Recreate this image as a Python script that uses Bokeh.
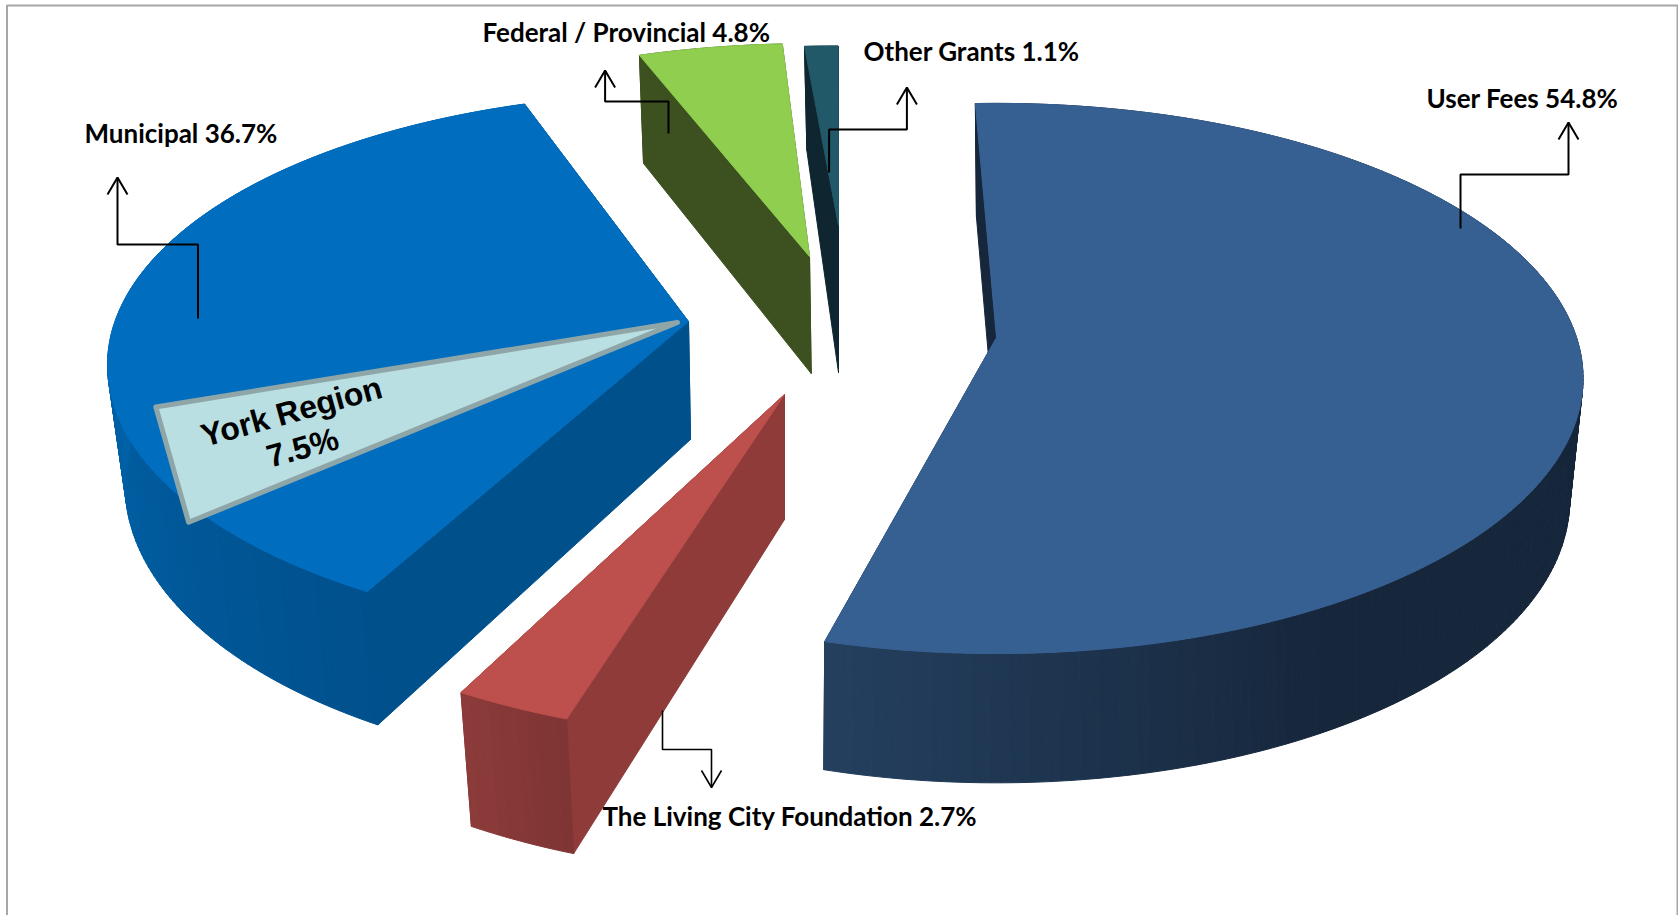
import numpy as np
from bokeh.plotting import figure
from bokeh.models import Range1d
from bokeh.embed import file_html
from bokeh.resources import INLINE
from bokeh.core.properties import value

# ---- data ----
categories = ["User Fees", "The Living City Foundation", "Municipal", "Federal / Provincial", "Other Grants"]
shares = [54.8, 2.7, 36.7, 4.8, 1.1]
york_label = "York Region"
york_share = 7.5
label_texts = ["User Fees 54.8%", "The Living City Foundation 2.7%", "Municipal 36.7%",
               "Federal / Provincial 4.8%", "Other Grants 1.1%"]

# ---- layout (page pixels) ----
W, H = 1678, 915
TOTAL = sum(shares)
# start angle, top face (apex x, y, a, b, k), bottom face (apex x, y, a, b, k)
geom = {
    "User Fees": (-2.4, (996, 337, 580, 269, .149), (996, 449, 564, 274, .178)),
    "The Living City Foundation": (198.0, (784, 394, 591, 286, .17), (784, 519, 572, 294.5, .17)),
    "Municipal": (208.8, (688, 321, 573.5, 265, .16), (690, 439, 558, 280, .16)),
    "Federal / Provincial": (339.5, (809, 256, 563, 249, .17), (810.7, 373, 555, 260, .17)),
    "Other Grants": (356.0, (838, 225, 570, 210, .17), (838, 372, 530, 260, .17)),
}
top_col = {"User Fees": "#376092", "The Living City Foundation": "#BD4F4C", "Municipal": "#016DBF",
           "Federal / Provincial": "#8FCE4F", "Other Grants": "#215968"}
side_col = {"User Fees": "#16263B", "The Living City Foundation": "#8E3B3A", "Municipal": "#00508C",
            "Federal / Provincial": "#3D5120", "Other Grants": "#0F2530"}
# outer wall shading: (angle, colour)
wall_stops = {
    "User Fees": [(90, "#16263B"), (150, "#16263B"), (195, "#24405F")],
    "The Living City Foundation": [(198, "#7E3534"), (208, "#8C3B3A")],
    "Municipal": [(208, "#00508C"), (240, "#005A9C"), (275, "#0064AB"), (340, "#0064AB")],
    "Federal / Provincial": [(339, "#3D5120"), (357, "#3D5120")],
    "Other Grants": [(356, "#0F2530"), (360, "#0F2530")],
}


def hex2rgb(h):
    return np.array([int(h[i:i + 2], 16) for i in (1, 3, 5)], float)


def shade(stops, th):
    angs = [s[0] for s in stops]
    cols = np.array([hex2rgb(s[1]) for s in stops])
    c = [np.interp(th, angs, cols[:, i]) for i in range(3)]
    return "#%02x%02x%02x" % tuple(int(round(v)) for v in c)


def proj(th, g, r=1.0):
    ax, ay, a, b, k = g
    t = np.radians(th)
    u, v = np.sin(t) * r, np.cos(t) * r
    w = 1 + k * v
    return ax + a * u / w, ay - b * v / w


p = figure(width=W, height=H, x_range=Range1d(0, W), y_range=Range1d(H, 0),
           output_backend="svg", toolbar_location=None, min_border=0,
           outline_line_color=None)
p.xaxis.visible = False
p.yaxis.visible = False
p.grid.visible = False

# frame
p.line([6.5, 6.5, 1677, 1677], [H, 5, 5, H], line_color="#A6A6A6", line_width=2)


def patch(xs, ys, color):
    p.patch(list(xs), list(ys), fill_color=color, line_color=color, line_width=1)


spans = {}
for cat, val in zip(categories, shares):
    spans[cat] = val / TOTAL * 360

draw_order = ["Other Grants", "Federal / Provincial", "Municipal", "The Living City Foundation", "User Fees"]
for cat in draw_order:
    th0, gt, gb = geom[cat]
    th1 = th0 + spans[cat]
    ths = np.linspace(th0, th1, max(int(spans[cat] * 1.2), 8) + 1)
    # radial walls
    for th in (th1, th0):
        xt, yt = proj(th, gt)
        xb, yb = proj(th, gb)
        patch([gt[0], xt, xb, gb[0]], [gt[1], yt, yb, gb[1]], side_col[cat])
    # outer wall in shaded bands
    tx, ty = proj(ths, gt)
    bx, by = proj(ths, gb)
    for i in range(len(ths) - 1):
        patch([tx[i], tx[i + 1], bx[i + 1], bx[i]], [ty[i], ty[i + 1], by[i + 1], by[i]],
              shade(wall_stops[cat], (ths[i] + ths[i + 1]) / 2))
    # top
    patch(np.r_[gt[0], tx], np.r_[gt[1], ty], top_col[cat])

# York Region wedge, a part of the Municipal top face
_, gt_m, _ = geom["Municipal"]
york_span = york_share / TOTAL * 360 * 0.81
y0 = 229.0
cx0, cy0 = proj(y0, gt_m, 1.03)
cx1, cy1 = proj(y0 + york_span, gt_m, 0.935)
p.patch([gt_m[0] - 11, cx0, cx1], [gt_m[1] + 1, cy0, cy1], fill_color="#B9DFE2",
        line_color="#8FA6A9", line_width=5, line_join="round")

# leaders (page pixels): one per label
leaders = {
    "Municipal": ([197.5, 197.5, 117, 117], [318, 244, 244, 177]),
    "Federal / Provincial": ([668, 668, 604.6, 604.6], [133, 101, 101, 70]),
    "Other Grants": ([828.6, 828.6, 906.4, 906.4], [172, 129, 129, 87]),
    "User Fees": ([1460, 1460, 1568, 1568], [228, 174, 174, 122]),
    "The Living City Foundation": ([662, 662, 711, 711], [710, 749, 749, 787]),
}
for cat, (lx, ly) in leaders.items():
    lw = 1.6 if cat.startswith("The") else 2
    p.line(lx, ly, line_color="black", line_width=lw)
    d = 17 if ly[-1] < ly[-2] else -17
    p.line([lx[-1] - 10, lx[-1], lx[-1] + 10], [ly[-1] + d, ly[-1], ly[-1] + d], line_color="black", line_width=lw)

# labels
label_pos = {
    "User Fees 54.8%": (1426, 97),
    "The Living City Foundation 2.7%": (602, 815),
    "Municipal 36.7%": (84, 132),
    "Federal / Provincial 4.8%": (482, 31),
    "Other Grants 1.1%": (863, 50),
}
for t in label_texts:
    x, y = label_pos[t]
    p.text([x], [y], text=[t], text_font=value("Lato"), text_font_style="bold",
           text_font_size="26px", text_color="black", text_align="left", text_baseline="middle")

p.text([291], [411], text=[york_label], text_font=value("Liberation Sans"), text_font_style="bold",
       text_font_size="32px", text_color="black", text_align="center", text_baseline="middle",
       angle=[np.radians(15.5)])
p.text([302], [447], text=["%.1f%%" % york_share], text_font=value("Liberation Sans"), text_font_style="bold",
       text_font_size="32px", text_color="black", text_align="center", text_baseline="middle",
       angle=[np.radians(15.5)])

open("out.html", "w").write(file_html(p, INLINE))
